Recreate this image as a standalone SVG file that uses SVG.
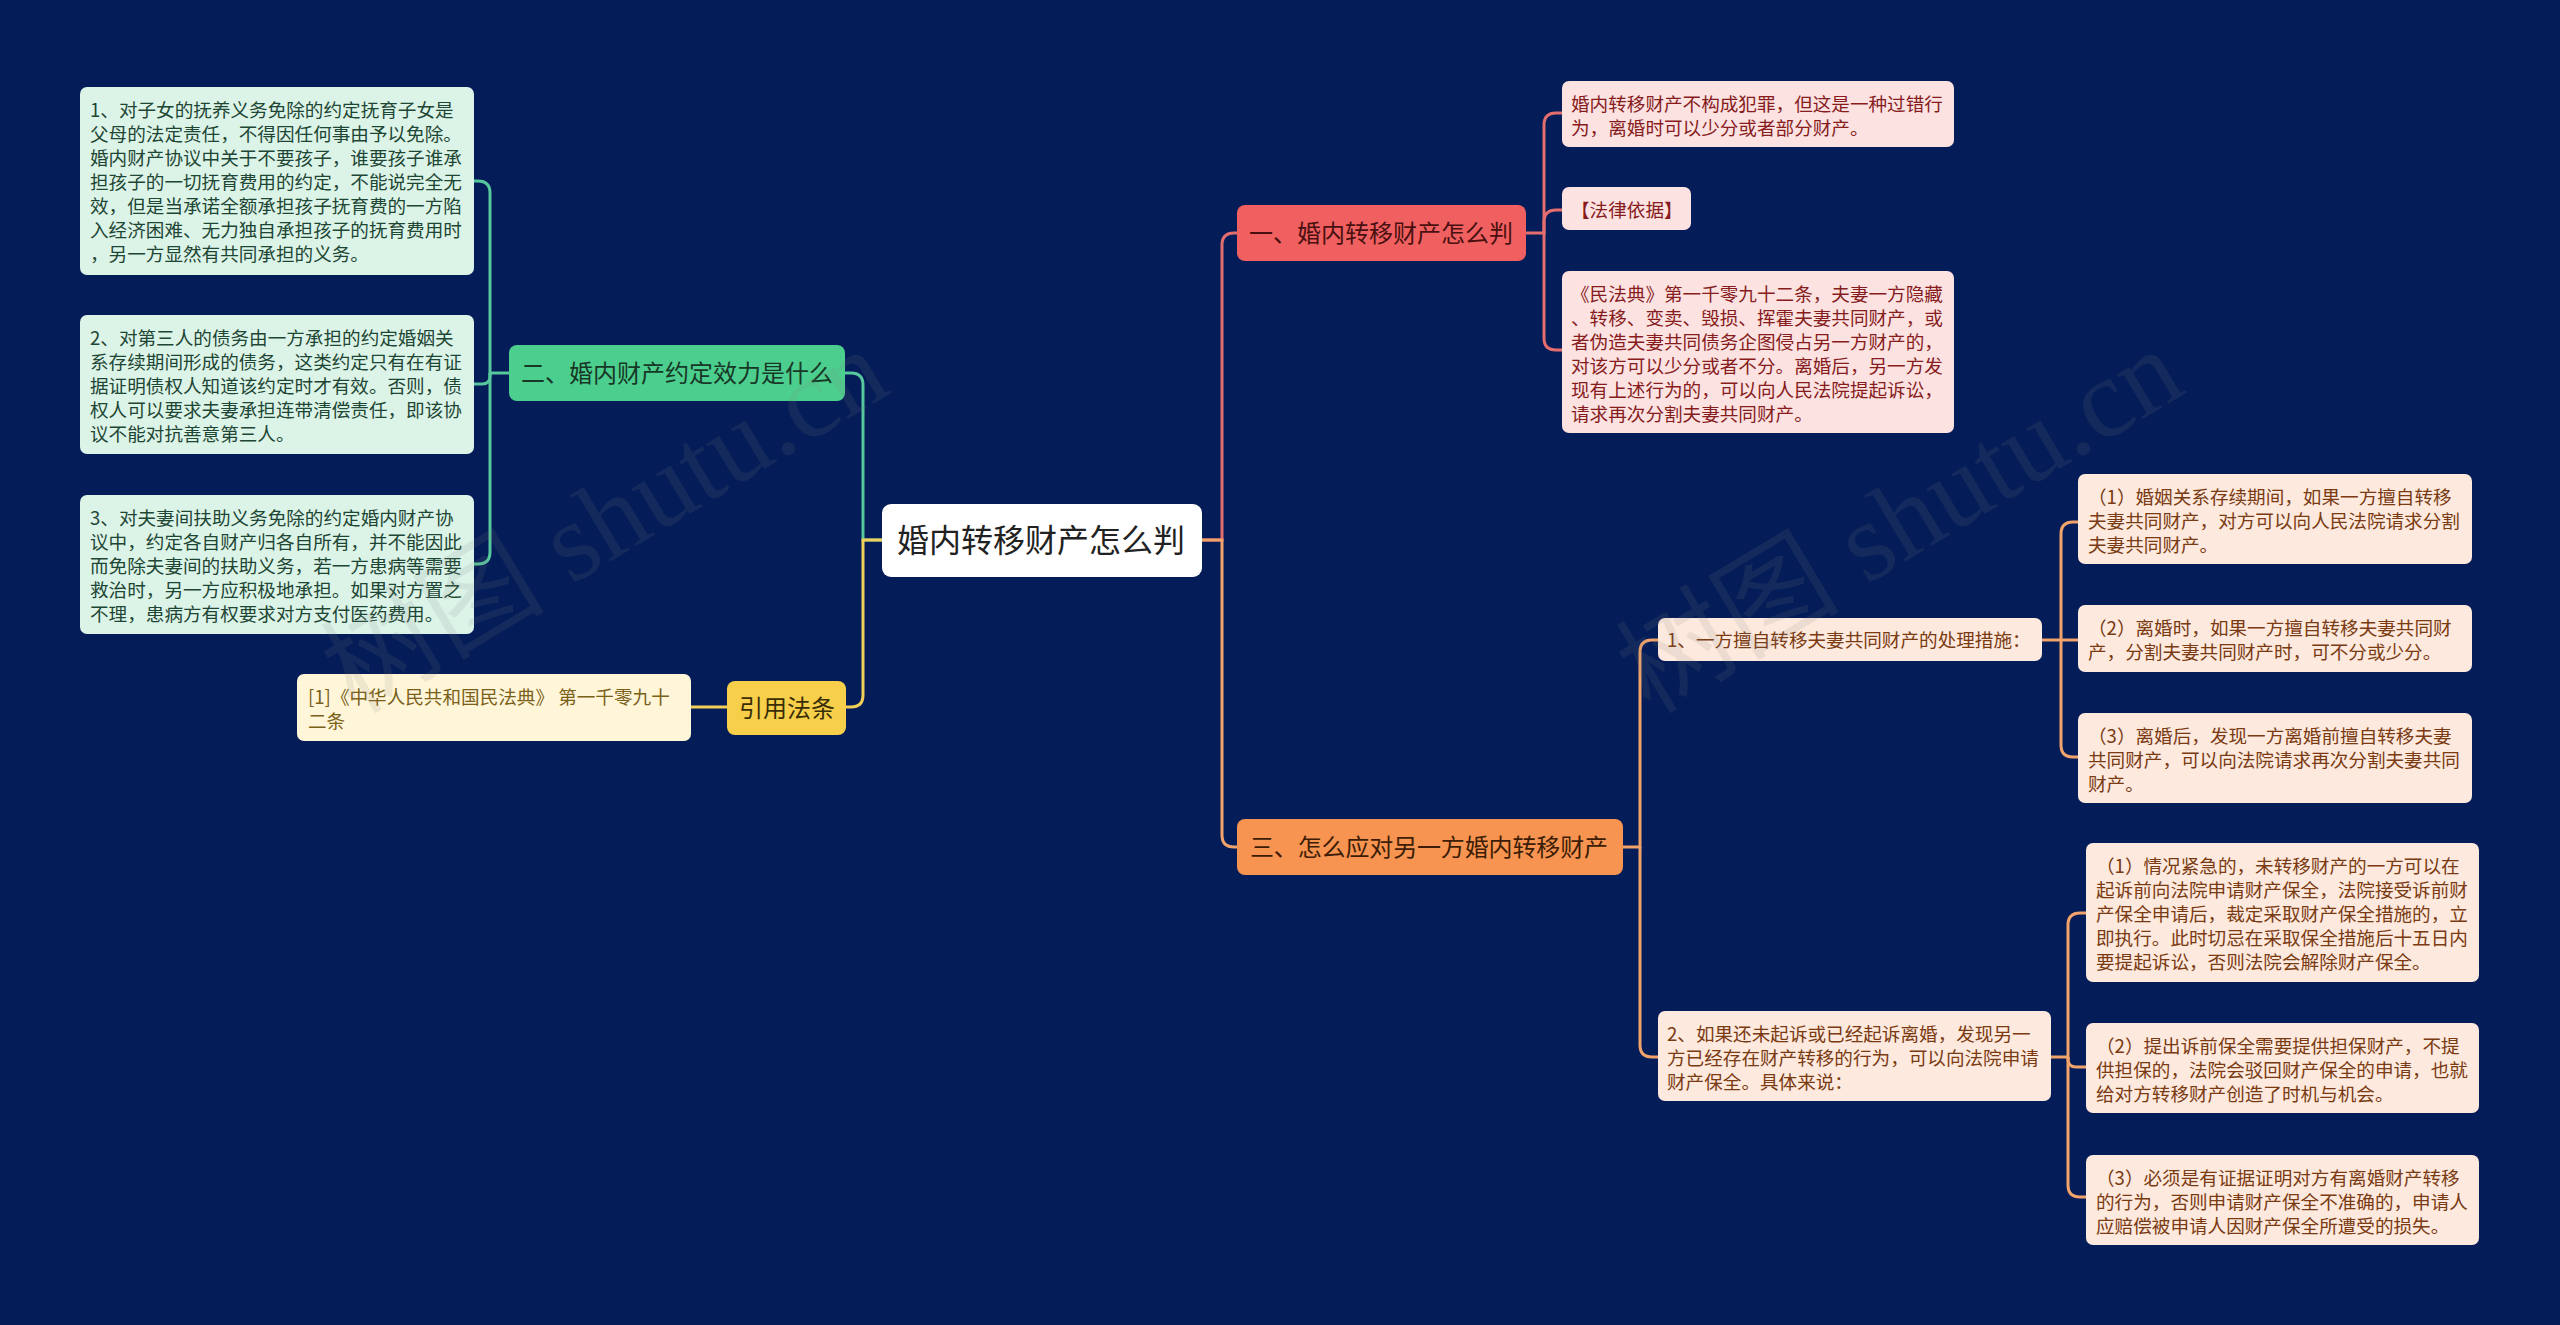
<svg xmlns="http://www.w3.org/2000/svg" width="2560" height="1325" viewBox="0 0 2560 1325">
<style>
text{font-family:"Noto Sans CJK SC","Noto Sans",sans-serif;}
.lf{font-size:18.6px;}
.l2{font-size:24px;}
.root{font-size:32px;fill:#222222;}
.cg{fill:none;stroke:#57c79d;stroke-width:3;}
.cr{fill:none;stroke:#e46e6e;stroke-width:3;}
.co{fill:none;stroke:#f2a36b;stroke-width:3;}
.cy{fill:none;stroke:#f2cf58;stroke-width:3;}
.bg{fill:#dcf4e8;} .tg{fill:#1e4634;}
.br{fill:#fde2e2;} .tr{fill:#861c1c;}
.bo{fill:#fde9dd;} .to{fill:#7a3a12;}
.by{fill:#fff6d9;} .ty{fill:#7a6018;}
.wm{font-family:"Liberation Serif","Noto Sans CJK SC",serif;font-size:112px;fill:#808080;opacity:0.13;}
</style>
<rect x="0" y="0" width="2560" height="1325" fill="#041c57"/>
<g id="connectors">
<path class="cg" d="M882,540 H863 V385 Q863,373 851,373 H845"/>
<path class="cy" d="M882,540 H863 V695 Q863,707 851,707 H846"/>
<path class="cy" d="M727,707 H691"/>
<path class="cg" d="M509,373 H490 V193 Q490,181 478,181 H474"/>
<path class="cg" d="M490,373 V376 Q490,384 482,384 H474"/>
<path class="cg" d="M490,373 V552 Q490,564 478,564 H474"/>
<path class="cr" d="M1202,540 H1222 V245 Q1222,233 1234,233 H1237"/>
<path class="co" d="M1202,540 H1222 V835 Q1222,847 1234,847 H1237"/>
<path class="cr" d="M1525,233 H1544 V125 Q1544,113 1556,113 H1562"/>
<path class="cr" d="M1544,233 V222 Q1544,210 1556,210 H1562"/>
<path class="cr" d="M1544,233 V338 Q1544,350 1556,350 H1562"/>
<path class="co" d="M1623,847 H1640 V652 Q1640,640 1652,640 H1658"/>
<path class="co" d="M1640,847 V1045 Q1640,1057 1652,1057 H1658"/>
<path class="co" d="M2042,640 H2061 V534 Q2061,522 2073,522 H2078"/>
<path class="co" d="M2061,640 H2078"/>
<path class="co" d="M2061,640 V745 Q2061,757 2073,757 H2078"/>
<path class="co" d="M2051,1057 H2068 V925 Q2068,913 2080,913 H2086"/>
<path class="co" d="M2068,1057 V1059 Q2068,1067 2076,1067 H2086"/>
<path class="co" d="M2068,1057 V1185 Q2068,1197 2080,1197 H2086"/>
</g>
<g id="root">
<rect x="882" y="504" width="320" height="73" rx="9" fill="#ffffff"/>
<text class="root" x="897" y="552">婚内转移财产怎么判</text>
</g>
<g id="n2">
<rect x="509" y="345" width="336" height="56" rx="8" fill="#4ccf8e"/>
<text class="l2" x="521" y="382" fill="#173826">二、婚内财产约定效力是什么</text>
</g>
<g id="n2-1">
<rect class="bg" x="80" y="87" width="394" height="188" rx="7"/>
<text class="lf tg" x="90" y="117">1、对子女的抚养义务免除的约定抚育子女是<tspan x="90" dy="24">父母的法定责任，不得因任何事由予以免除。</tspan><tspan x="90" dy="24">婚内财产协议中关于不要孩子，谁要孩子谁承</tspan><tspan x="90" dy="24">担孩子的一切抚育费用的约定，不能说完全无</tspan><tspan x="90" dy="24">效，但是当承诺全额承担孩子抚育费的一方陷</tspan><tspan x="90" dy="24">入经济困难、无力独自承担孩子的抚育费用时</tspan><tspan x="90" dy="24">，另一方显然有共同承担的义务。</tspan></text>
</g>
<g id="n2-2">
<rect class="bg" x="80" y="315" width="394" height="139" rx="7"/>
<text class="lf tg" x="90" y="345">2、对第三人的债务由一方承担的约定婚姻关<tspan x="90" dy="24">系存续期间形成的债务，这类约定只有在有证</tspan><tspan x="90" dy="24">据证明债权人知道该约定时才有效。否则，债</tspan><tspan x="90" dy="24">权人可以要求夫妻承担连带清偿责任，即该协</tspan><tspan x="90" dy="24">议不能对抗善意第三人。</tspan></text>
</g>
<g id="n2-3">
<rect class="bg" x="80" y="495" width="394" height="139" rx="7"/>
<text class="lf tg" x="90" y="525">3、对夫妻间扶助义务免除的约定婚内财产协<tspan x="90" dy="24">议中，约定各自财产归各自所有，并不能因此</tspan><tspan x="90" dy="24">而免除夫妻间的扶助义务，若一方患病等需要</tspan><tspan x="90" dy="24">救治时，另一方应积极地承担。如果对方置之</tspan><tspan x="90" dy="24">不理，患病方有权要求对方支付医药费用。</tspan></text>
</g>
<g id="cite">
<rect x="727" y="681" width="119" height="54" rx="8" fill="#f7cf4a"/>
<text class="l2" x="739" y="717" fill="#3a2e06">引用法条</text>
</g>
<g id="cite-1">
<rect class="by" x="297" y="674" width="394" height="67" rx="7"/>
<text class="lf ty" x="308" y="704">[1]《中华人民共和国民法典》 第一千零九十<tspan x="308" dy="24">二条</tspan></text>
</g>
<g id="n1">
<rect x="1237" y="205" width="289" height="56" rx="8" fill="#f06060"/>
<text class="l2" x="1249" y="242" fill="#4a1010">一、婚内转移财产怎么判</text>
</g>
<g id="n1-1">
<rect class="br" x="1562" y="81" width="392" height="66" rx="7"/>
<text class="lf tr" x="1571" y="111">婚内转移财产不构成犯罪，但这是一种过错行<tspan x="1571" dy="24">为，离婚时可以少分或者部分财产。</tspan></text>
</g>
<g id="n1-2">
<rect class="br" x="1562" y="187" width="129" height="43" rx="7"/>
<text class="lf tr" x="1571" y="217">【法律依据】</text>
</g>
<g id="n1-3">
<rect class="br" x="1562" y="271" width="392" height="162" rx="7"/>
<text class="lf tr" x="1571" y="301">《民法典》第一千零九十二条，夫妻一方隐藏<tspan x="1571" dy="24">、转移、变卖、毁损、挥霍夫妻共同财产，或</tspan><tspan x="1571" dy="24">者伪造夫妻共同债务企图侵占另一方财产的，</tspan><tspan x="1571" dy="24">对该方可以少分或者不分。离婚后，另一方发</tspan><tspan x="1571" dy="24">现有上述行为的，可以向人民法院提起诉讼，</tspan><tspan x="1571" dy="24">请求再次分割夫妻共同财产。</tspan></text>
</g>
<g id="n3">
<rect x="1237" y="819" width="386" height="56" rx="8" fill="#f89451"/>
<text class="l2" x="1250" y="856" fill="#3d1d06" textLength="358" lengthAdjust="spacing">三、怎么应对另一方婚内转移财产</text>
</g>
<g id="n3-1">
<rect class="bo" x="1658" y="618" width="384" height="43" rx="7"/>
<text class="lf to" x="1667" y="647">1、一方擅自转移夫妻共同财产的处理措施：</text>
</g>
<g id="n3-1-1">
<rect class="bo" x="2078" y="474" width="394" height="90" rx="7"/>
<text class="lf to" x="2088" y="504">（1）婚姻关系存续期间，如果一方擅自转移<tspan x="2088" dy="24">夫妻共同财产，对方可以向人民法院请求分割</tspan><tspan x="2088" dy="24">夫妻共同财产。</tspan></text>
</g>
<g id="n3-1-2">
<rect class="bo" x="2078" y="605" width="394" height="67" rx="7"/>
<text class="lf to" x="2088" y="635">（2）离婚时，如果一方擅自转移夫妻共同财<tspan x="2088" dy="24">产，分割夫妻共同财产时，可不分或少分。</tspan></text>
</g>
<g id="n3-1-3">
<rect class="bo" x="2078" y="713" width="394" height="90" rx="7"/>
<text class="lf to" x="2088" y="743">（3）离婚后，发现一方离婚前擅自转移夫妻<tspan x="2088" dy="24">共同财产，可以向法院请求再次分割夫妻共同</tspan><tspan x="2088" dy="24">财产。</tspan></text>
</g>
<g id="n3-2">
<rect class="bo" x="1658" y="1011" width="393" height="90" rx="7"/>
<text class="lf to" x="1667" y="1041">2、如果还未起诉或已经起诉离婚，发现另一<tspan x="1667" dy="24">方已经存在财产转移的行为，可以向法院申请</tspan><tspan x="1667" dy="24">财产保全。具体来说：</tspan></text>
</g>
<g id="n3-2-1">
<rect class="bo" x="2086" y="843" width="393" height="139" rx="7"/>
<text class="lf to" x="2096" y="873">（1）情况紧急的，未转移财产的一方可以在<tspan x="2096" dy="24">起诉前向法院申请财产保全，法院接受诉前财</tspan><tspan x="2096" dy="24">产保全申请后，裁定采取财产保全措施的，立</tspan><tspan x="2096" dy="24">即执行。此时切忌在采取保全措施后十五日内</tspan><tspan x="2096" dy="24">要提起诉讼，否则法院会解除财产保全。</tspan></text>
</g>
<g id="n3-2-2">
<rect class="bo" x="2086" y="1023" width="393" height="90" rx="7"/>
<text class="lf to" x="2096" y="1053">（2）提出诉前保全需要提供担保财产，不提<tspan x="2096" dy="24">供担保的，法院会驳回财产保全的申请，也就</tspan><tspan x="2096" dy="24">给对方转移财产创造了时机与机会。</tspan></text>
</g>
<g id="n3-2-3">
<rect class="bo" x="2086" y="1155" width="393" height="90" rx="7"/>
<text class="lf to" x="2096" y="1185">（3）必须是有证据证明对方有离婚财产转移<tspan x="2096" dy="24">的行为，否则申请财产保全不准确的，申请人</tspan><tspan x="2096" dy="24">应赔偿被申请人因财产保全所遭受的损失。</tspan></text>
</g>
<g id="watermark">
<text class="wm" x="355" y="715" transform="rotate(-31 355 715)">树图 shutu.cn</text>
<text class="wm" x="1650" y="715" transform="rotate(-31 1650 715)">树图 shutu.cn</text>
</g>
</svg>
